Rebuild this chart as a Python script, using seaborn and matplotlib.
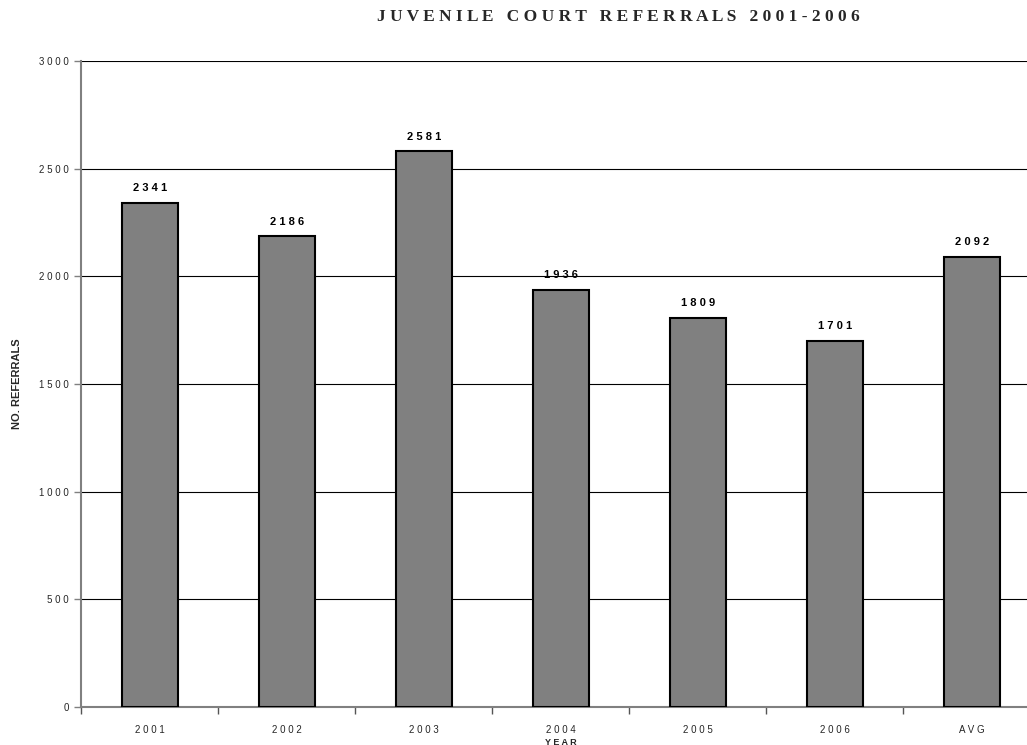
import matplotlib
matplotlib.use("Agg")
import matplotlib.pyplot as plt
import seaborn as sns
import pandas as pd
import numpy as np

categories = ["2001", "2002", "2003", "2004", "2005", "2006", "AVG"]
referrals = [2341, 2186, 2581, 1936, 1809, 1701, 2092]
y_ticks = [0, 500, 1000, 1500, 2000, 2500, 3000]

def spaced(s):
    return " ".join(list(s))

sns.set_theme(style="white")
plt.rcParams['font.family'] = ['Liberation Sans', 'DejaVu Sans']

df = pd.DataFrame({"year": categories, "referrals": referrals})

fig = plt.figure(figsize=(10.27, 7.45), dpi=100)
ax = fig.add_axes([0.079, 0.051, 0.934, 0.867])

sns.barplot(data=df, x="year", y="referrals", color="#808080", saturation=1,
            width=0.41, edgecolor="black", linewidth=1.5, ax=ax, zorder=3)

ax.set_ylim(0, 3000)
ax.set_xlim(-0.5, len(categories) - 0.5)
ax.set_yticks(y_ticks)
ax.set_yticklabels([spaced(str(v)) for v in y_ticks], fontsize=7)
ax.set_xticks(range(len(categories)))
ax.set_xticklabels([spaced(c) for c in categories], fontsize=7)
ax.tick_params(axis="x", length=0, pad=13)
ax.tick_params(axis="y", left=True, length=5, width=1, color="#808080", pad=4)
# boundary ticks on x axis
ax.set_xticks(np.arange(-0.5, len(categories), 1), minor=True)
ax.tick_params(axis="x", which="minor", bottom=True, length=5, width=1, color="#555555")

ax.yaxis.grid(True, color="black", linewidth=0.8)
ax.set_axisbelow(True)
for s in ["top", "right"]:
    ax.spines[s].set_visible(False)
for s in ["left", "bottom"]:
    ax.spines[s].set_color("#808080")
    ax.spines[s].set_linewidth(1.5)

for i, v in enumerate(referrals):
    ax.text(i, v + 45, spaced(str(v)), ha="center", va="bottom",
            fontsize=8, fontweight="bold", color="black")

ax.set_xlabel(spaced("YEAR"), fontsize=6.5, fontweight="bold", labelpad=2)
ax.set_ylabel("NO. REFERRALS", fontsize=8, fontweight="bold", labelpad=12)

fig.text(0.602, 0.977, "   ".join(spaced(w) for w in "JUVENILE COURT REFERRALS 2001-2006".split()),
         ha="center", va="center", fontsize=12.5, fontweight="bold",
         family=["Liberation Serif", "DejaVu Serif"])

fig.savefig("out.png", dpi=100, facecolor="white")
